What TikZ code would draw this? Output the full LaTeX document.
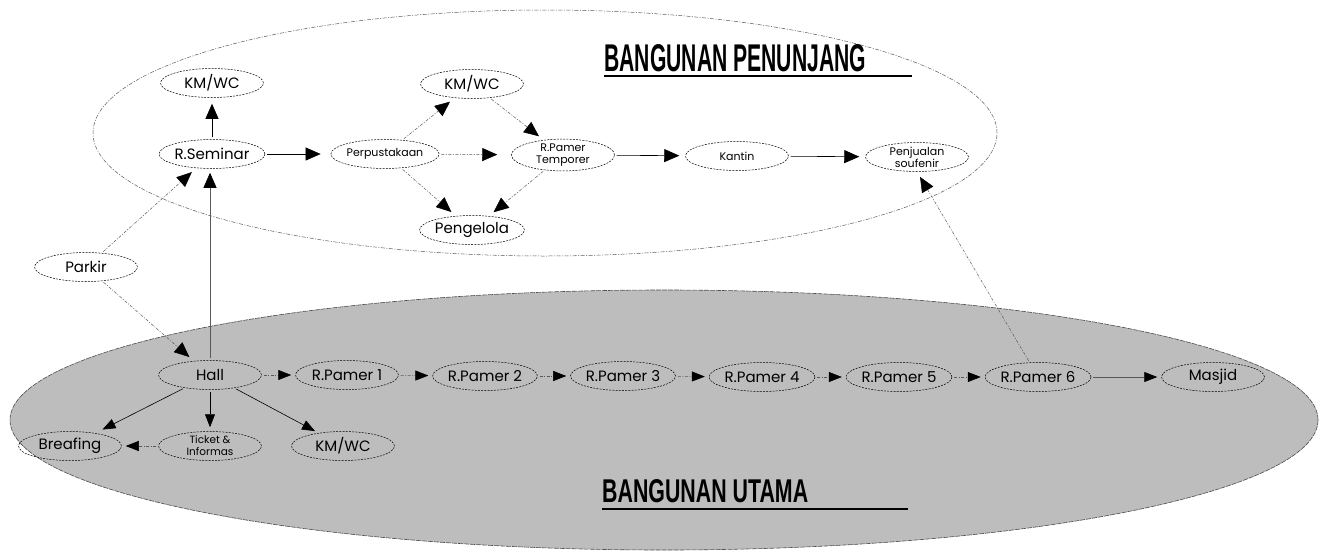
\documentclass[tikz,border=0pt]{standalone}
\usepackage{fontspec}
\usepackage{graphicx}
\setmainfont{Poppins}
\newfontfamily\titlefont{Liberation Sans}
\usetikzlibrary{shapes.geometric,arrows.meta}
\definecolor{areagray}{gray}{0.74}
\definecolor{linegray}{gray}{0.35}
\begin{document}
\begin{tikzpicture}[x=1pt,y=-1pt,
  room/.style={ellipse,draw=black,line width=0.5pt,dash pattern=on 2pt off 1.2pt,
    minimum width=103pt,minimum height=29pt,inner sep=0pt,font=\fontsize{15}{15}\selectfont,align=center},
  smallroom/.style={room,font=\fontsize{11}{12}\selectfont},
  arr/.style={-{Triangle[length=15pt,width=13pt,color=black]},line width=0.6pt,shorten >=6pt,shorten <=2pt},
  larr/.style={-{Triangle[length=13pt,width=10pt,color=black]},shorten >=4pt,shorten <=2pt},
  darr/.style={arr,draw=linegray,line width=0.5pt,dash pattern=on 3pt off 1.5pt on 1pt off 1.5pt},
  sarr/.style={arr,draw=linegray,line width=0.6pt},
  title/.style={inner sep=0pt,anchor=south west}
]
\useasboundingbox (0,0) rectangle (1319,555);
% zone ellipses
\draw[linegray,line width=0.5pt,dash pattern=on 4pt off 1.5pt on 1pt off 1.5pt] (545,133) ellipse [x radius=452pt,y radius=123pt];
\fill[areagray] (664,420) ellipse [x radius=654pt,y radius=130pt];
\draw[black!70,line width=0.6pt,dash pattern=on 5pt off 1pt] (664,420) ellipse [x radius=654pt,y radius=130pt];

% titles
\node[title] (tpen) at (604,72) {\resizebox{262pt}{27pt}{\titlefont\bfseries BANGUNAN PENUNJANG}};
\draw[line width=2pt] (604,76) -- (912,76);
\node[title] (tuta) at (602,503) {\resizebox{206pt}{23pt}{\titlefont\bfseries BANGUNAN UTAMA}};
\draw[line width=2pt] (602,509) -- (908,509);

% upper nodes
\node[room] (km1) at (212,83) {KM/WC};
\node[room] (sem) at (212,154) {R.Seminar};
\node[smallroom] (pus) at (385,154) {Perpustakaan};
\node[room] (km2) at (472,84) {KM/WC};
\node[smallroom] (tem) at (563,155) {R.Pamer\\Temporer};
\node[room] (pen) at (472,230) {Pengelola};
\node[smallroom] (kan) at (737,156) {Kantin};
\node[smallroom] (jual) at (917,157) {Penjualan\\soufenir};
\node[room] (park) at (86,267) {Parkir};

% lower nodes
\node[room] (hall) at (210,375) {Hall};
\node[room] (p1) at (347,375) {R.Pamer 1};
\node[room] (p2) at (485,376) {R.Pamer 2};
\node[room] (p3) at (623,376) {R.Pamer 3};
\node[room] (p4) at (762,377) {R.Pamer 4};
\node[room] (p5) at (899,377) {R.Pamer 5};
\node[room] (p6) at (1038,377) {R.Pamer 6};
\node[room] (mas) at (1213,377) {Masjid};
\node[room] (bre) at (70,446) {Breafing};
\node[smallroom,font=\fontsize{10.5}{12}\selectfont] (tik) at (210,446) {Ticket \&\\Informas};
\node[room] (km3) at (343,446) {KM/WC};

% upper connectors
\draw[arr] (sem) -- (km1);
\draw[arr,shorten >=10pt] (sem) -- (pus);
\draw[darr] (park) -- (sem);
\draw[sarr,shorten >=4pt] (hall.north) -- (hall.north |- sem.south);
\draw[darr] (park) -- (hall);
\draw[darr] (pus) -- (km2);
\draw[darr,shorten >=14pt] (pus) -- (tem);
\draw[darr] (pus) -- (pen);
\draw[darr] (km2) -- (tem);
\draw[darr] (tem) -- (pen);
\draw[arr] (tem) -- (kan);
\draw[arr] (kan) -- (jual);
\draw[darr] (p6.120) -- (jual.south);

% lower connectors
\draw[darr,larr] (hall) -- (p1);
\draw[darr,larr] (p1) -- (p2);
\draw[darr,larr] (p2) -- (p3);
\draw[darr,larr] (p3) -- (p4);
\draw[darr,larr] (p4) -- (p5);
\draw[darr,larr] (p5) -- (p6);
\draw[sarr,larr] (p6) -- (mas);
\draw[arr,larr,shorten >=8pt] (hall) -- (bre);
\draw[arr,larr] (hall) -- (tik);
\draw[arr,larr] (hall) -- (km3);
\draw[darr,larr] (tik) -- (bre);
\end{tikzpicture}
\end{document}
